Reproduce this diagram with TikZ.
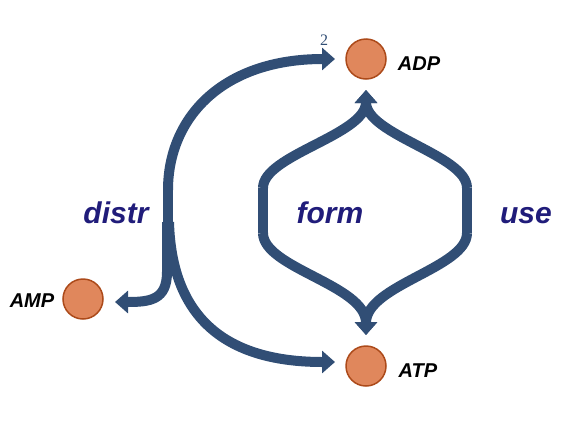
\documentclass[tikz,border=0pt]{standalone}
\usepackage{fontspec}
\setmainfont{Liberation Sans}
\newfontfamily\serifnum{Liberation Serif}
\usetikzlibrary{arrows.meta}
\definecolor{flowc}{RGB}{49,78,117}
\definecolor{labc}{RGB}{32,28,122}
\definecolor{cfill}{RGB}{224,135,92}
\definecolor{cborder}{RGB}{172,74,26}
\tikzset{
  flow/.style={draw=flowc, line width=10pt, -{Triangle[length=13pt,width=22pt]}},
  flowplain/.style={draw=flowc, line width=10pt},
  metab/.style={circle, minimum size=40pt, inner sep=0pt, fill=cfill, draw=cborder, line width=1.5pt},
  mlabel/.style={font=\fontsize{20}{20}\selectfont\bfseries\itshape, text=black, anchor=base},
  plabel/.style={font=\fontsize{30}{30}\selectfont\bfseries\itshape, text=labc, anchor=base},
}
\begin{document}
\begin{tikzpicture}[x=1pt,y=-1pt]
\useasboundingbox (0,0) rectangle (567,421);
% metabolites
\node[metab] (adp) at (366,59) {};
\node[metab] (atp) at (366,366) {};
\node[metab] (amp) at (83,299) {};
\node[mlabel] (adpl) at (419,70) {ADP};
\node[mlabel] (atpl) at (418,377) {ATP};
\node[mlabel] (ampl) at (32,307) {AMP};
\node[font=\fontsize{16}{16}\selectfont\serifnum, text=flowc, anchor=base] (two) at (324,45) {2};
% process labels
\node[plabel] (distr) at (116,223) {distr};
\node[plabel] (form) at (330,223) {form};
\node[plabel] (use) at (526,223) {use};
% junction coordinates
\coordinate (dtop) at (168,190);
\coordinate (dbot) at (168,232);
\coordinate (dsplit) at (168,222);
\coordinate (ltop) at (263,188);
\coordinate (lbot) at (263,233);
\coordinate (rtop) at (467,188);
\coordinate (rbot) at (467,233);
\coordinate (adpin) at (366,90);
\coordinate (atpin) at (366,335);
\coordinate (adpw) at (335,59);
\coordinate (atpw) at (335,362);
\coordinate (ampe) at (115,302);
% distr
\draw[flowplain] (dtop) -- (dbot);
\draw[flow] (dtop) .. controls (168,118) and (222,59) .. (adpw);
\draw[flow] ([xshift=1pt]dsplit) .. controls (172,330) and (240,362) .. (atpw);
\draw[flow] ([xshift=-1pt]dsplit) -- (167,272) .. controls (167,300) and (150,302) .. (ampe);
% form / use lens
\draw[flowplain] (ltop) -- (lbot);
\draw[flowplain] (rtop) -- (rbot);
\draw[flow] (ltop) .. controls (263,155) and (366,135) .. (adpin);
\draw[flow] (rtop) .. controls (467,155) and (366,135) .. (adpin);
\draw[flow] (lbot) .. controls (263,268) and (366,285) .. (atpin);
\draw[flow] (rbot) .. controls (467,268) and (366,285) .. (atpin);
\end{tikzpicture}
\end{document}
